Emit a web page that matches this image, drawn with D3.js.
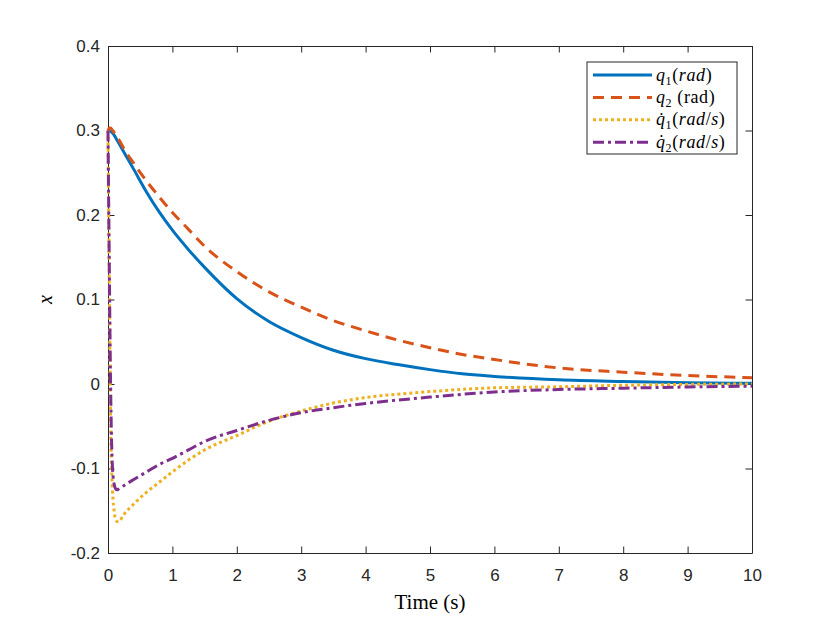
<!DOCTYPE html>
<html>
<head>
<meta charset="utf-8">
<script src="https://cdn.jsdelivr.net/npm/d3@7"></script>
<style>
  html, body { margin: 0; padding: 0; background: #fff; }
  svg { display: block; }
</style>
</head>
<body>
<svg id="chart" width="830" height="623"></svg>
<script>
// ---- data ----
const time = [0, 0.02, 0.04, 0.07, 0.1, 0.13, 0.16, 0.25, 0.4, 0.6, 0.8, 1, 1.25, 1.5, 2, 2.5, 3, 3.5, 4, 4.5, 5, 5.5, 6, 7, 8, 9, 10];
const q1 = [0.300, 0.300, 0.299, 0.297, 0.294, 0.290, 0.286, 0.274, 0.254, 0.227, 0.203, 0.182, 0.159, 0.138, 0.101, 0.074, 0.055, 0.040, 0.030, 0.023, 0.017, 0.012, 0.009, 0.005, 0.003, 0.0015, 0.0008];
const q2 = [0.300, 0.303, 0.303, 0.300, 0.297, 0.293, 0.290, 0.278, 0.261, 0.240, 0.221, 0.203, 0.183, 0.163, 0.133, 0.109, 0.091, 0.075, 0.063, 0.052, 0.043, 0.035, 0.029, 0.019, 0.014, 0.010, 0.0075];
const dq1 = [0.300, 0.120, -0.040, -0.125, -0.153, -0.162, -0.163, -0.154, -0.142, -0.128, -0.116, -0.104, -0.090, -0.078, -0.061, -0.044, -0.032, -0.0225, -0.016, -0.012, -0.009, -0.0063, -0.0045, -0.0033, -0.0015, -0.0005, 0.0];
const dq2 = [0.300, 0.140, 0.000, -0.100, -0.120, -0.125, -0.1245, -0.120, -0.113, -0.104, -0.095, -0.088, -0.078, -0.068, -0.055, -0.043, -0.034, -0.028, -0.023, -0.019, -0.0155, -0.0122, -0.0095, -0.0065, -0.005, -0.0035, -0.0025];

const xTicks = [0, 1, 2, 3, 4, 5, 6, 7, 8, 9, 10];
const yTicks = [-0.2, -0.1, 0, 0.1, 0.2, 0.3, 0.4];
const yTickLabels = ["-0.2", "-0.1", "0", "0.1", "0.2", "0.3", "0.4"];

const seriesNames = ["q1", "q2", "dq1", "dq2"];
const seriesValues = [q1, q2, dq1, dq2];

// ---- layout / style ----
const W = 830, H = 623;
const M = { left: 108, top: 46, right: 78, bottom: 70 };
const iw = W - M.left - M.right, ih = H - M.top - M.bottom;
const styles = [
  { color: "#0072BD", dash: null },
  { color: "#D95319", dash: "11,7" },
  { color: "#EDB120", dash: "3,3" },
  { color: "#7E2F8E", dash: "11,4,3,4" }
];
const axisColor = "#262626";

const svg = d3.select("#chart");
const g = svg.append("g").attr("transform", `translate(${M.left},${M.top})`);

const x = d3.scaleLinear().domain([0, 10]).range([0, iw]);
const y = d3.scaleLinear().domain([-0.2, 0.4]).range([ih, 0]);

const tickLen = 6.5;
const fmtY = d => yTickLabels[yTicks.findIndex(v => Math.abs(v - d) < 1e-9)];

function styleAxis(sel) {
  sel.select(".domain").attr("stroke", axisColor).attr("stroke-width", 1);
  sel.selectAll(".tick line").attr("stroke", axisColor).attr("stroke-width", 1);
  sel.selectAll(".tick text").attr("fill", axisColor)
     .style("font-family", "'Liberation Sans', Arial, sans-serif").style("font-size", "17px");
}

// bottom
g.append("g").attr("transform", `translate(0,${ih})`)
  .call(d3.axisBottom(x).tickValues(xTicks).tickSizeInner(-tickLen).tickSizeOuter(0).tickPadding(16).tickFormat(d3.format("d")))
  .call(styleAxis);
// top
g.append("g")
  .call(d3.axisTop(x).tickValues(xTicks).tickSizeInner(-tickLen).tickSizeOuter(0).tickFormat(""))
  .call(styleAxis);
// left
g.append("g")
  .call(d3.axisLeft(y).tickValues(yTicks).tickSizeInner(-tickLen).tickSizeOuter(0).tickPadding(8).tickFormat(fmtY))
  .call(styleAxis);
// right
g.append("g").attr("transform", `translate(${iw},0)`)
  .call(d3.axisRight(y).tickValues(yTicks).tickSizeInner(-tickLen).tickSizeOuter(0).tickFormat(""))
  .call(styleAxis);

// lines
svg.append("defs").append("clipPath").attr("id", "clip")
  .append("rect").attr("x", -2).attr("y", -2).attr("width", iw + 4).attr("height", ih + 4);

const line = d3.line().x(d => x(d[0])).y(d => y(d[1])).curve(d3.curveMonotoneX);
const plot = g.append("g").attr("clip-path", "url(#clip)");
seriesValues.forEach((vals, i) => {
  const pts = time.map((t, k) => [t, vals[k]]);
  plot.append("path").datum(pts)
    .attr("d", line)
    .attr("fill", "none")
    .attr("stroke", styles[i].color)
    .attr("stroke-width", 3)
    .attr("stroke-dasharray", styles[i].dash)
    .attr("stroke-linejoin", "round");
});

// axis labels
svg.append("text")
  .attr("x", M.left + iw / 2).attr("y", 609)
  .attr("text-anchor", "middle")
  .style("font-family", "'Liberation Serif', 'Times New Roman', serif")
  .style("font-size", "21px").attr("fill", "#000")
  .text("Time (s)");

svg.append("text")
  .attr("transform", `translate(52,${M.top + ih / 2}) rotate(-90)`)
  .attr("text-anchor", "middle")
  .style("font-family", "'Liberation Serif', 'Times New Roman', serif")
  .style("font-style", "italic")
  .style("font-size", "20px").attr("fill", "#000")
  .text("x");

// legend
const leg = svg.append("g").attr("transform", "translate(587,62)");
leg.append("rect").attr("x", 0).attr("y", 0).attr("width", 150).attr("height", 92)
  .attr("fill", "#fff").attr("stroke", axisColor).attr("stroke-width", 1);

const legendLabels = [
  [{ t: "q", i: true }, { t: "1", sub: true }, { t: "(" }, { t: "rad", i: true }, { t: ")" }],
  [{ t: "q", i: true }, { t: "2", sub: true }, { t: " (rad)" }],
  [{ t: "q\u0307", i: true }, { t: "1", sub: true }, { t: "(" }, { t: "rad", i: true }, { t: "/" }, { t: "s", i: true }, { t: ")" }],
  [{ t: "q\u0307", i: true }, { t: "2", sub: true }, { t: "(" }, { t: "rad", i: true }, { t: "/" }, { t: "s", i: true }, { t: ")" }]
];
seriesNames.forEach((name, i) => {
  const yy = 13 + i * 22.4;
  leg.append("line").attr("x1", 6).attr("x2", 65).attr("y1", yy).attr("y2", yy)
    .attr("stroke", styles[i].color).attr("stroke-width", 3)
    .attr("stroke-dasharray", styles[i].dash);
  const tx = leg.append("text").attr("x", 69).attr("y", yy + 5.5)
    .style("font-family", "'Liberation Serif', 'Times New Roman', serif")
    .style("font-size", "18px").style("letter-spacing", "0.6px").attr("fill", "#000");
  let prevSub = false;
  legendLabels[i].forEach(p => {
    const ts = tx.append("tspan").text(p.t);
    if (p.i) ts.style("font-style", "italic");
    if (p.sub) { ts.attr("dy", 4).style("font-size", "12px"); prevSub = true; }
    else if (prevSub) { ts.attr("dy", -4); prevSub = false; }
  });
});
</script>
</body>
</html>
